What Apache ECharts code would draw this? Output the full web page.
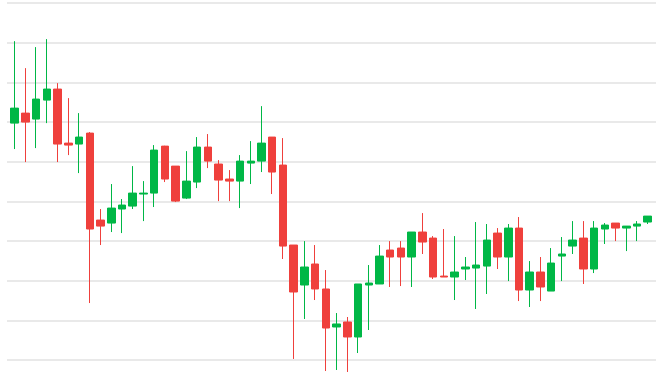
<!DOCTYPE html>
<html>
<head>
<meta charset="utf-8">
<script src="https://cdn.jsdelivr.net/npm/echarts@6/dist/echarts.min.js"></script>
<style>
  html, body { margin: 0; padding: 0; background: #fff; }
  #chart { width: 665px; height: 384px; }
</style>
</head>
<body>
<div id="chart"></div>
<script>
const opens  = [6698.6, 6711.2, 6703.7, 6727.6, 6741.5, 6673.4, 6672.2, 6686.0, 6576.4, 6572.6,
                6590.3, 6594.0, 6609.2, 6610.4, 6669.6, 6644.4, 6604.1, 6624.3, 6668.4, 6647.0,
                6628.1, 6625.5, 6648.2, 6650.7, 6681.0, 6645.7, 6544.9, 6494.5, 6521.0, 6489.5,
                6441.6, 6447.9, 6429.0, 6494.5, 6495.8, 6538.6, 6541.1, 6529.8, 6561.3, 6553.7,
                6505.8, 6504.6, 6514.7, 6515.9, 6518.4, 6560.0, 6529.8, 6566.3, 6488.2, 6510.9,
                6486.9, 6531.0, 6543.6, 6553.7, 6514.7, 6565.1, 6572.6, 6566.3, 6568.8, 6573.9];
const closes = [6717.5, 6699.9, 6728.9, 6741.5, 6672.2, 6670.9, 6681.0, 6565.1, 6568.8, 6591.5,
                6595.3, 6610.4, 6610.4, 6664.6, 6628.1, 6600.3, 6625.5, 6668.4, 6650.7, 6626.8,
                6625.5, 6650.7, 6650.7, 6673.4, 6636.9, 6543.6, 6485.7, 6517.2, 6489.5, 6440.3,
                6445.4, 6429.0, 6495.8, 6497.0, 6531.0, 6529.8, 6529.8, 6561.3, 6548.7, 6504.6,
                6504.6, 6510.9, 6517.2, 6519.7, 6551.2, 6529.8, 6566.3, 6488.2, 6510.9, 6492.0,
                6522.2, 6533.6, 6551.2, 6514.7, 6566.3, 6570.1, 6566.3, 6568.8, 6571.4, 6581.4];
const lows   = [6665.9, 6649.5, 6667.1, 6698.6, 6649.5, 6658.3, 6635.6, 6471.8, 6544.9, 6561.3,
                6560.0, 6590.3, 6575.1, 6592.8, 6624.3, 6599.1, 6602.9, 6616.7, 6641.9, 6600.3,
                6600.3, 6591.5, 6621.8, 6636.9, 6609.2, 6527.3, 6401.3, 6451.7, 6475.6, 6386.1,
                6387.4, 6384.9, 6408.8, 6437.8, 6495.8, 6492.0, 6493.2, 6492.0, 6533.6, 6502.1,
                6504.6, 6475.6, 6500.8, 6464.3, 6483.2, 6514.7, 6499.5, 6474.3, 6466.8, 6474.3,
                6486.9, 6499.5, 6533.6, 6495.8, 6509.6, 6546.2, 6549.9, 6537.3, 6549.9, 6571.4];
const highs  = [6801.9, 6767.9, 6794.4, 6804.5, 6749.0, 6730.1, 6711.2, 6687.3, 6590.3, 6621.8,
                6602.9, 6644.4, 6625.5, 6670.9, 6670.0, 6644.4, 6663.3, 6681.0, 6684.8, 6652.0,
                6639.4, 6658.3, 6675.9, 6720.0, 6681.0, 6679.7, 6544.9, 6549.9, 6544.9, 6513.4,
                6459.2, 6454.2, 6495.8, 6519.7, 6544.9, 6549.9, 6549.9, 6561.3, 6585.2, 6556.2,
                6565.1, 6556.2, 6529.8, 6573.9, 6571.4, 6566.3, 6571.4, 6580.2, 6524.7, 6529.8,
                6541.1, 6555.0, 6575.1, 6575.1, 6575.1, 6572.6, 6572.6, 6568.8, 6575.1, 6581.4];

const UP = '#00B746';
const DOWN = '#EF403C';

const data = opens.map((o, i) => [i, o, closes[i], lows[i], highs[i]]);

const chart = echarts.init(document.getElementById('chart'), null, { renderer: 'canvas' });
chart.setOption({
  animation: false,
  backgroundColor: '#ffffff',
  grid: { left: 7, right: 9, top: 3, bottom: 24, containLabel: false },
  xAxis: {
    type: 'value',
    min: -0.72,
    max: 59.77,
    axisLine: { show: false },
    axisTick: { show: false },
    axisLabel: { show: false },
    splitLine: { show: false }
  },
  yAxis: {
    type: 'value',
    min: 6400,
    max: 6850,
    interval: 50,
    axisLine: { show: false },
    axisTick: { show: false },
    axisLabel: { show: false },
    splitLine: { show: true, lineStyle: { color: '#e2e2e2', width: 1.6 } }
  },
  series: [{
    type: 'candlestick',
    clip: false,
    barWidth: 8,
    encode: { x: 0, y: [1, 2, 3, 4] },
    data: data,
    itemStyle: {
      color: UP,
      color0: DOWN,
      borderColor: UP,
      borderColor0: DOWN,
      borderWidth: 1
    }
  }]
});
</script>
</body>
</html>
